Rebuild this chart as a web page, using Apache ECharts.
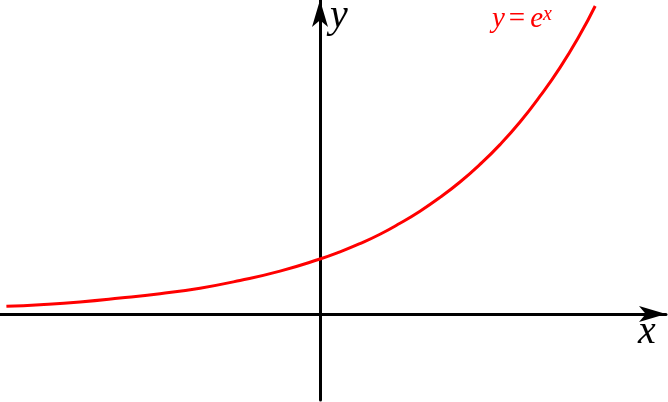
<!DOCTYPE html>
<html>
<head>
<meta charset="utf-8">
<style>
  html, body { margin: 0; padding: 0; background: #fff; }
  #chart { width: 668px; height: 402px; }
</style>
<script src="https://cdn.jsdelivr.net/npm/echarts@6/dist/echarts.min.js"></script>
</head>
<body>
<div id="chart"></div>
<script>
const xValues = [-1.96, -1.75, -1.5, -1.25, -1, -0.75, -0.5, -0.25, 0, 0.125, 0.25, 0.375, 0.5, 0.625, 0.75, 0.875, 1, 1.125, 1.25, 1.375, 1.5, 1.625, 1.72];
const yValues = [0.14, 0.17, 0.22, 0.29, 0.37, 0.47, 0.61, 0.78, 1.0, 1.13, 1.28, 1.45, 1.65, 1.87, 2.12, 2.4, 2.72, 3.08, 3.49, 3.96, 4.48, 5.08, 5.6];
const xRange = [-2, 2.1625];
const yRange = [-1.5636, 5.709];

let myChart = echarts.init(document.getElementById("chart"));
let points = xValues.map((x, i) => [x, yValues[i]]);

let axisCommon = {
  type: "value",
  axisLine: {
    onZero: true,
    symbol: ["none", "arrow"],
    symbolSize: [12, 27],
    lineStyle: { color: "#000", width: 3 },
  },
  axisTick: { show: false },
  axisLabel: { show: false },
  splitLine: { show: false },
};

let option = {
  animation: false,
  grid: { left: 0, right: 2, top: 0, bottom: 2 },
  xAxis: Object.assign({}, axisCommon, { min: xRange[0], max: xRange[1] }),
  yAxis: Object.assign({}, axisCommon, { min: yRange[0], max: yRange[1] }),
  graphic: [
    {
      type: "text",
      left: 330,
      top: -4,
      style: {
        text: "y",
        font: "italic 40px 'Liberation Serif'",
        fill: "#000",
      },
    },
    {
      type: "text",
      left: 638,
      top: 312,
      style: {
        text: "x",
        font: "italic 40px 'Liberation Serif'",
        fill: "#000",
      },
    },
    {
      type: "text",
      left: 492,
      top: 5,
      style: {
        text: "{a|y}{b|=}{a|e}{s|x}",
        rich: {
          a: { font: "italic 29px 'Liberation Serif'", fill: "#ff0000", verticalAlign: "bottom" },
          b: { font: "29px 'Liberation Serif'", fill: "#ff0000", verticalAlign: "bottom", padding: [0, 5, 0, 4] },
          s: { font: "italic 20px 'Liberation Serif'", fill: "#ff0000", verticalAlign: "top" },
        },
      },
    },
  ],
  series: [
    {
      type: "line",
      data: points,
      smooth: true,
      showSymbol: false,
      lineStyle: { color: "#ff0000", width: 3 },
    },
  ],
};
option && myChart.setOption(option);
</script>
</body>
</html>
